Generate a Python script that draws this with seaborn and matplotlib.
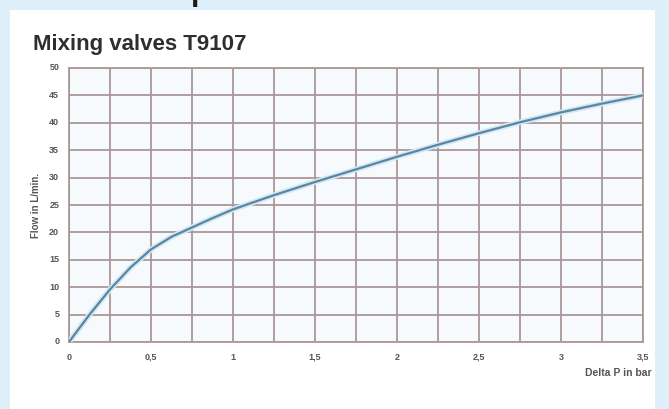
import matplotlib
matplotlib.use("Agg")
import matplotlib.pyplot as plt
import seaborn as sns
import pandas as pd

# values
delta_p = [0, 0.125, 0.25, 0.375, 0.5, 0.625, 0.75, 0.875, 1.0, 1.25, 1.5, 1.75,
           2.0, 2.25, 2.5, 2.75, 3.0, 3.25, 3.5]
flow = [0, 5.0, 9.6, 13.6, 16.9, 19.2, 20.9, 22.6, 24.2, 26.8, 29.2, 31.5,
        33.8, 36.0, 38.1, 40.1, 41.9, 43.5, 45.0]
x_ticks = [0, 0.5, 1, 1.5, 2, 2.5, 3, 3.5]
x_tick_labels = ["0", "0,5", "1", "1,5", "2", "2,5", "3", "3,5"]
y_ticks = list(range(0, 55, 5))

df = pd.DataFrame({"dp": delta_p, "flow": flow})

sns.set_style("white")
plt.rcParams["font.family"] = ["Liberation Sans Narrow", "Liberation Sans", "DejaVu Sans"]

grid_col = "#ab9797"
text_col = "#2e2e2e"

fig = plt.figure(figsize=(6.69, 4.09), dpi=100)
fig.patch.set_facecolor("#ddf0f9")

# white card behind the chart
card = plt.Rectangle((10 / 669, 0), 655 / 669 - 10 / 669, 1 - 10 / 409,
                     transform=fig.transFigure, facecolor="white", edgecolor="none", zorder=-5)
fig.patches.append(card)

# cut-off heading above the card
fig.text(0.285, 1.0, "p", fontsize=22, fontweight="bold", color="#1a1a1a", va="baseline")

ax = fig.add_axes([69 / 669, 1 - 342 / 409, (643 - 69) / 669, (342 - 68) / 409])
ax.set_zorder(2)
ax.set_facecolor("#f6fafd")

sns.lineplot(data=df, x="dp", y="flow", ax=ax, color="#d3e8f3", linewidth=4.0, zorder=3)
sns.lineplot(data=df, x="dp", y="flow", ax=ax, color="#5a85a3", linewidth=1.6, zorder=4)

ax.set_xlim(0, 3.5)
ax.set_ylim(0, 50)
ax.set_xticks([i * 0.25 for i in range(15)])
ax.set_yticks(y_ticks)
ax.grid(True, color=grid_col, linewidth=1.3)
ax.set_axisbelow(True)
for s in ax.spines.values():
    s.set_color(grid_col)
    s.set_linewidth(1.3)
ax.tick_params(length=0)
ax.set_xticklabels([])
ax.set_yticklabels([])

# tick labels placed at the major positions
for v, lab in zip(x_ticks, x_tick_labels):
    ax.text(v, -2.0, lab, ha="center", va="top", fontsize=6.5, fontweight="bold",
            color="#555555", clip_on=False)
for v in y_ticks:
    ax.text(-0.06, v, str(v), ha="right", va="center", fontsize=6.5, fontweight="bold",
            color="#555555", clip_on=False)

ax.set_xlabel("")
ax.set_ylabel("")
fig.text(36 / 669, 1 - 205 / 409, "Flow in L/min.", rotation=90, ha="center", va="center",
         fontsize=7, fontweight="bold", color="#555555")
fig.text(652 / 669, 1 - 373 / 409, "Delta P in bar", ha="right", va="center",
         fontsize=7.5, fontweight="bold", color="#555555")

fig.text(33 / 669, 1 - 50 / 409, "Mixing valves T9107", ha="left", va="baseline",
         fontsize=16, fontweight="bold", color=text_col)

fig.savefig("out.png", dpi=100, facecolor=fig.get_facecolor())
